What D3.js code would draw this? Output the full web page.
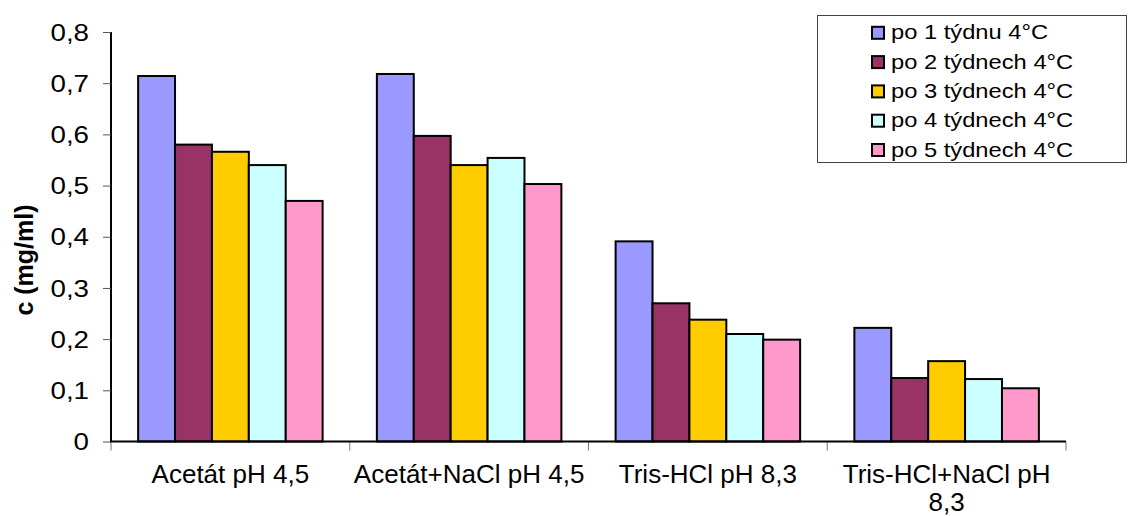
<!DOCTYPE html>
<html>
<head>
<meta charset="utf-8">
<script src="https://cdn.jsdelivr.net/npm/d3@7"></script>
<style>
  html, body { margin: 0; padding: 0; background: #fff; }
  svg { display: block; font-family: "Liberation Sans", Arial, sans-serif; }
</style>
</head>
<body>
<svg id="chart" width="1128" height="516"></svg>
<script>
// Buffers / storage conditions
const categories = ["Acetát pH 4,5", "Acetát+NaCl pH 4,5", "Tris-HCl pH 8,3", "Tris-HCl+NaCl pH 8,3"];
const seriesNames = ["po 1 týdnu 4°C", "po 2 týdnech 4°C", "po 3 týdnech 4°C", "po 4 týdnech 4°C", "po 5 týdnech 4°C"];
const seriesColors = ["#9999FF", "#993366", "#FFCC00", "#CCFFFF", "#FF99CC"];

// Protein concentration c (mg/ml), one array per week
const week1 = [0.714, 0.718, 0.391, 0.222];
const week2 = [0.580, 0.597, 0.270, 0.124];
const week3 = [0.566, 0.540, 0.238, 0.157];
const week4 = [0.540, 0.554, 0.210, 0.122];
const week5 = [0.470, 0.503, 0.199, 0.104];
const seriesValues = [week1, week2, week3, week4, week5];

const yTicks = [0, 0.1, 0.2, 0.3, 0.4, 0.5, 0.6, 0.7, 0.8];
const yTitle = "c (mg/ml)";

const svg = d3.select("#chart");
const plot = { left: 111, right: 1066, top: 32, bottom: 441.5 };

const x = d3.scaleBand().domain(categories).range([plot.left, plot.right]).paddingInner(0).paddingOuter(0);
const xInner = d3.scaleBand().domain(seriesNames).range([0, x.bandwidth()]).paddingInner(0).paddingOuter(0.735);
const y = d3.scaleLinear().domain([0, 0.8]).range([plot.bottom, plot.top]);
const color = d3.scaleOrdinal().domain(seriesNames).range(seriesColors);

const fmt = v => d3.format(".1~f")(v).replace(".", ",");

// Bars
const rows = categories.map((c, ci) => ({
  cat: c,
  items: seriesNames.map((s, si) => ({ series: s, value: seriesValues[si][ci] }))
}));

svg.append("g").selectAll("g").data(rows).join("g")
  .attr("transform", d => `translate(${x(d.cat)},0)`)
  .selectAll("rect").data(d => d.items).join("rect")
    .attr("x", d => xInner(d.series))
    .attr("y", d => y(d.value))
    .attr("width", xInner.bandwidth())
    .attr("height", d => y(0) - y(d.value))
    .attr("fill", d => color(d.series))
    .attr("stroke", "#000")
    .attr("stroke-width", 2);

// Y axis
const yAxis = svg.append("g")
  .attr("transform", `translate(${plot.left},0)`)
  .call(d3.axisLeft(y).tickValues(yTicks).tickSize(8).tickFormat(fmt));
yAxis.select(".domain").attr("stroke", "#000").attr("stroke-width", 2).attr("d", `M0,${plot.top}V${plot.bottom}`);
yAxis.selectAll(".tick line").attr("stroke", "#555").attr("stroke-width", 1);
yAxis.selectAll(".tick text")
  .attr("x", null).attr("dy", null)
  .attr("fill", "#000")
  .attr("font-size", 23.5)
  .attr("font-family", "'Liberation Sans', Arial, sans-serif")
  .attr("text-anchor", "end")
  .attr("dominant-baseline", "central")
  .attr("transform", "translate(-22,0) scale(1.18,1)");

// X axis
const xAxisG = svg.append("g").attr("transform", `translate(0,${plot.bottom})`);
const xBounds = categories.map(c => x(c)).concat([plot.right]);
xAxisG.selectAll("line.tick").data(xBounds).join("line")
  .attr("x1", d => d).attr("x2", d => d)
  .attr("y1", 0).attr("y2", 9)
  .attr("stroke", "#777").attr("stroke-width", 1);
xAxisG.append("line")
  .attr("x1", plot.left - 1).attr("x2", plot.right)
  .attr("y1", 0).attr("y2", 0)
  .attr("stroke", "#000").attr("stroke-width", 2);

// Category labels, wrapped when wider than the band
const labelG = svg.append("g")
  .attr("font-size", 26)
  .attr("text-anchor", "middle")
  .attr("fill", "#000");
categories.forEach(c => {
  const t = labelG.append("text")
    .attr("x", x(c) + x.bandwidth() / 2)
    .attr("y", 483);
  const words = c.split(" ");
  let line = [];
  let tspan = t.append("tspan").attr("x", x(c) + x.bandwidth() / 2).attr("dy", 0);
  words.forEach(w => {
    line.push(w);
    tspan.text(line.join(" "));
    if (tspan.node().getComputedTextLength() > x.bandwidth() + 6 && line.length > 1) {
      line.pop();
      tspan.text(line.join(" "));
      line = [w];
      tspan = t.append("tspan").attr("x", x(c) + x.bandwidth() / 2).attr("dy", 27.5).text(w);
    }
  });
});

// Y axis title
svg.append("text")
  .attr("transform", "translate(33,260) rotate(-90)")
  .attr("text-anchor", "middle")
  .attr("font-size", 25)
  .attr("font-weight", "bold")
  .attr("fill", "#000")
  .text(yTitle);

// Legend
const legend = svg.append("g");
legend.append("rect")
  .attr("x", 817.5).attr("y", 15.5)
  .attr("width", 309).attr("height", 147)
  .attr("fill", "#fff")
  .attr("stroke", "#444").attr("stroke-width", 1);
const legendRow = legend.selectAll("g.row").data(seriesNames).join("g")
  .attr("transform", (d, i) => `translate(0,${39.3 + i * 29.3})`);
legendRow.append("rect")
  .attr("x", 872).attr("y", -12.5)
  .attr("width", 12).attr("height", 12)
  .attr("fill", d => color(d))
  .attr("stroke", "#000").attr("stroke-width", 2);
legendRow.append("text")
  .attr("transform", "translate(891,0) scale(1.13,1)")
  .attr("font-size", 21)
  .attr("fill", "#000")
  .text(d => d);
</script>
</body>
</html>
